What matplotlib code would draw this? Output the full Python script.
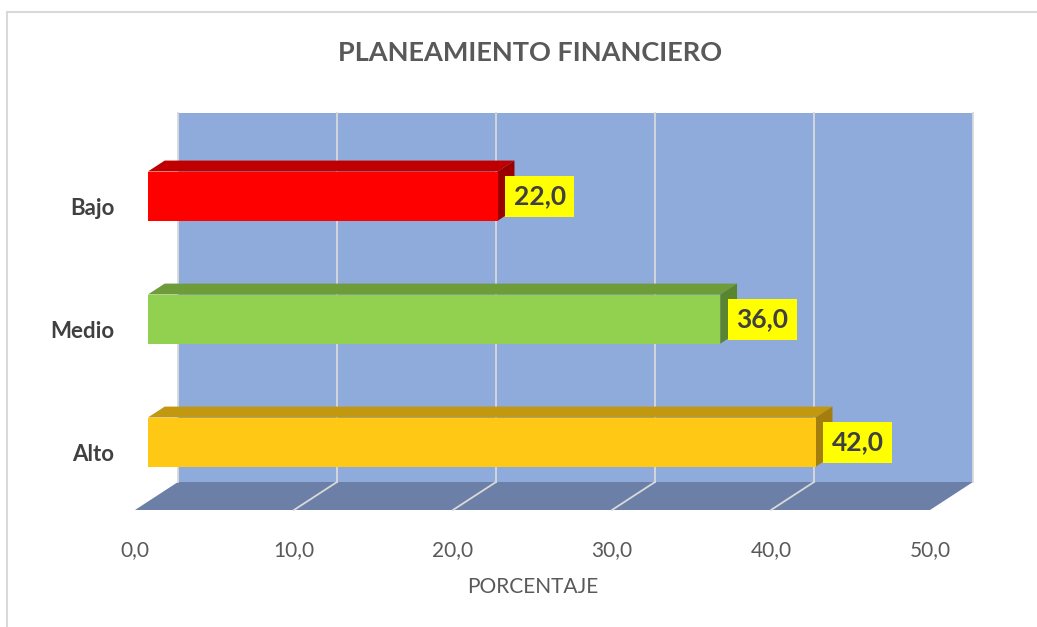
import matplotlib
matplotlib.use("Agg")
import matplotlib.pyplot as plt
from matplotlib.patches import Polygon, Rectangle
from matplotlib.lines import Line2D

# ---- data ----
categories = ["Alto", "Medio", "Bajo"]
values = [42.0, 36.0, 22.0]
front_colors = ["#FFC814", "#92D050", "#FF0000"]
top_colors = ["#C39811", "#6E9C3A", "#C00000"]
side_colors = ["#A37E0E", "#5A8530", "#9A0000"]
xticks = [0, 10, 20, 30, 40, 50]
title = "PLANEAMIENTO FINANCIERO"
xlabel = "PORCENTAJE"

plt.rcParams['font.family'] = ['Lato', 'DejaVu Sans']

W, H = 1037, 627
fig = plt.figure(figsize=(W / 100, H / 100), dpi=100)
left_px, right_px = 135, 930
bot_px, top_px = 510, 141
ax = fig.add_axes([left_px / W, 1 - bot_px / H, (right_px - left_px) / W, (bot_px - top_px) / H])
ax.set_xlim(0, 50)
ax.set_ylim(-0.5, 2.5)

pxx = (right_px - left_px) / 50.0
pxy = (bot_px - top_px) / 3.0
DX = 43 / pxx
DY = 28 / pxy
d0, d1 = 0.30, 0.69
hb = 0.2
yshift = -2 / pxy

wall_c = "#8FABDC"
floor_c = "#6B7FA7"
grid_c = "#D9D9D9"

# back wall
ax.add_patch(Rectangle((DX, -0.5 + DY), 50, 3.0, facecolor=wall_c, edgecolor="none", clip_on=False, zorder=1))
for v in xticks:
    ax.plot([v + DX, v + DX], [-0.5 + DY, 2.5 + DY], color=grid_c, lw=1.3, clip_on=False, zorder=2)
# floor
ax.add_patch(Polygon([(0, -0.5), (50, -0.5), (50 + DX, -0.5 + DY), (DX, -0.5 + DY)],
                     closed=True, facecolor=floor_c, edgecolor="none", clip_on=False, zorder=1))
for v in xticks[1:-1]:
    ax.plot([v, v + DX], [-0.5, -0.5 + DY], color=grid_c, lw=1.3, clip_on=False, zorder=2)

# bars
for i, (cat, v) in enumerate(zip(categories, values)):
    c = i + yshift
    ax.add_patch(Polygon([(d0 * DX, c + hb + d0 * DY), (v + d0 * DX, c + hb + d0 * DY),
                          (v + d1 * DX, c + hb + d1 * DY), (d1 * DX, c + hb + d1 * DY)],
                         closed=True, facecolor=top_colors[i], edgecolor="none", clip_on=False, zorder=3))
    ax.add_patch(Polygon([(v + d0 * DX, c - hb + d0 * DY), (v + d0 * DX, c + hb + d0 * DY),
                          (v + d1 * DX, c + hb + d1 * DY), (v + d1 * DX, c - hb + d1 * DY)],
                         closed=True, facecolor=side_colors[i], edgecolor="none", clip_on=False, zorder=3))
    ax.barh(c + d0 * DY, v, height=2 * hb, left=d0 * DX, color=front_colors[i], zorder=4, clip_on=False)
    ax.text(v + d0 * DX + 1.0, c + d0 * DY, f"{v:.1f}".replace(".", ","), ha="left", va="center",
            fontsize=19, fontweight="bold", color="#404040", zorder=5,
            bbox=dict(boxstyle="square,pad=0.32", facecolor="#FFFF00", edgecolor="none"))

for s in ax.spines.values():
    s.set_visible(False)
ax.set_facecolor("none")
ax.set_xticks(xticks)
ax.set_xticklabels([f"{t:.1f}".replace(".", ",") for t in xticks], fontsize=15, color="#595959")
ax.set_yticks([k - 4 / pxy for k in range(len(categories))])
ax.set_yticklabels(categories, fontsize=16, fontweight="bold", color="#404040")
ax.tick_params(axis="x", length=0, pad=22)
ax.tick_params(axis="y", length=0, pad=15)
ax.set_xlabel(xlabel, fontsize=15, color="#595959", labelpad=12)

fig.text(530 / W, 1 - 53 / H, title, ha="center", va="center", fontsize=19.5, fontweight="bold", color="#595959")

# chart border (left and top edges visible)
fig.lines.append(Line2D([7 / W, 7 / W], [0, 1 - 12 / H], transform=fig.transFigure, color="#D9D9D9", lw=1.5))
fig.lines.append(Line2D([7 / W, 1], [1 - 12 / H, 1 - 12 / H], transform=fig.transFigure, color="#D9D9D9", lw=1.5))

fig.savefig("out.png", dpi=100, facecolor="white")
